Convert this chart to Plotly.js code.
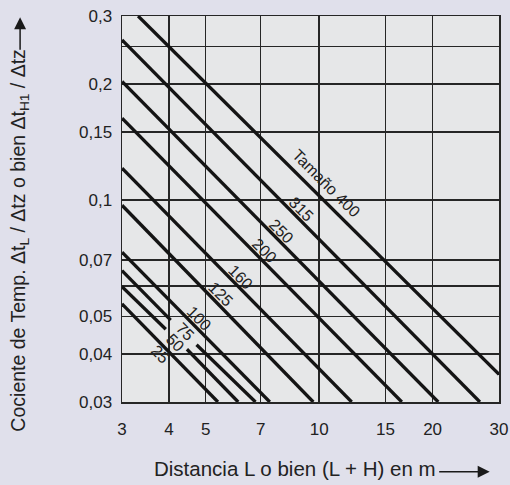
<!DOCTYPE html>
<html>
<head>
<meta charset="utf-8">
<script src="https://cdn.plot.ly/plotly-3.0.1.min.js"></script>
<style>
  html, body { margin: 0; padding: 0; background: #e0e0eb; }
  #chart { width: 510px; height: 485px; }
</style>
</head>
<body>
<div id="chart"></div>
<script>
// ---- Data ----
const sizeLabels = ["25", "50", "75", "100", "125", "160", "200", "250", "315", "Tamaño 400"];

const x_25  = [3, 5.39];                       const y_25  = [0.0539, 0.03];
const x_50  = [3, 3.92, null, 4.46, 6.10];     const y_50  = [0.0597, 0.0463, null, 0.0411, 0.03];
const x_75  = [3, 4.04, null, 4.73, 6.78];     const y_75  = [0.0657, 0.0489, null, 0.0422, 0.03];
const x_100 = [3, 7.40];                       const y_100 = [0.0733, 0.03];
const x_125 = [3, 9.65];                       const y_125 = [0.0970, 0.03];
const x_160 = [3, 12.2];                       const y_160 = [0.121, 0.03];
const x_200 = [3, 16.57];                      const y_200 = [0.163, 0.03];
const x_250 = [3, 20.7];                       const y_250 = [0.203, 0.03];
const x_315 = [3, 26.7];                       const y_315 = [0.26, 0.03];
const x_400 = [3.31, 30];                      const y_400 = [0.3, 0.0354];

// label anchor points (data coordinates)
const labelX = [3.79, 4.14, 4.40, 4.81, 5.49, 6.20, 7.15, 7.95, 8.99, 10.45];
const labelY = [0.0398, 0.0427, 0.0456, 0.0495, 0.0569, 0.0630, 0.0740, 0.0830, 0.0948, 0.1104];

const xTickVals = [3, 4, 5, 7, 10, 15, 20, 30];
const xTickText = ["3", "4", "5", "7", "10", "15", "20", "30"];
const yTickVals = [0.03, 0.04, 0.05, 0.06, 0.07, 0.1, 0.15, 0.2, 0.25, 0.3];
const yTickText = ["0,03", "0,04", "0,05", "", "0,07", "0,1", "0,15", "0,2", "", "0,3"];

// ---- Build traces ----
const seriesX = [x_25, x_50, x_75, x_100, x_125, x_160, x_200, x_250, x_315, x_400];
const seriesY = [y_25, y_50, y_75, y_100, y_125, y_160, y_200, y_250, y_315, y_400];

const FONT = "Liberation Sans, Arial, Helvetica, sans-serif";
const traces = seriesX.map((xs, i) => ({
  type: "scatter",
  mode: "lines",
  x: xs,
  y: seriesY[i],
  connectgaps: false,
  line: { color: "#141414", width: 3.3 },
  hoverinfo: "skip",
  showlegend: false
}));

const annotations = sizeLabels.map((t, i) => ({
  x: Math.log10(labelX[i]),
  y: Math.log10(labelY[i]),
  xref: "x", yref: "y",
  text: t,
  showarrow: false,
  textangle: 45,
  xanchor: "center", yanchor: "middle",
  font: { family: FONT, size: 16, color: "#222" }
}));

// axis titles and arrows
annotations.push({
  xref: "paper", yref: "paper",
  x: 0.4598, y: -0.173,
  xanchor: "center", yanchor: "middle",
  text: "Distancia L o bien (L + H) en m",
  showarrow: false,
  font: { family: FONT, size: 20.5, color: "#222" }
});
annotations.push({
  xref: "paper", yref: "paper",
  x: -0.2743, y: 0.417,
  xanchor: "center", yanchor: "middle",
  textangle: -90,
  text: "Cociente de Temp. Δt<sub>L</sub> / Δtz o bien Δt<sub>H1</sub> / Δtz",
  showarrow: false,
  font: { family: FONT, size: 19.5, color: "#222" }
});
annotations.push({
  xref: "paper", yref: "paper",
  x: 0.9753, y: -0.181,
  ax: -52, ay: 0,
  text: "",
  showarrow: true,
  arrowhead: 2, arrowsize: 1.6, arrowwidth: 1.5, arrowcolor: "#1a1a1a",
  standoff: 0, startstandoff: 0
});
annotations.push({
  xref: "paper", yref: "paper",
  x: -0.2703, y: 0.9969,
  ax: 0, ay: 34,
  text: "",
  showarrow: true,
  arrowhead: 2, arrowsize: 1.6, arrowwidth: 1.5, arrowcolor: "#1a1a1a",
  standoff: 0, startstandoff: 0
});

const layout = {
  width: 510, height: 485,
  margin: { l: 122, r: 11, t: 15.5, b: 82.7, pad: 0 },
  paper_bgcolor: "#e0e0eb",
  plot_bgcolor: "#e6e7e8",
  showlegend: false,
  xaxis: {
    type: "log",
    range: [Math.log10(3), Math.log10(30)],
    tickmode: "array", tickvals: xTickVals, ticktext: xTickText,
    showgrid: true, gridcolor: "#262626", gridwidth: 1.5,
    showline: true, linecolor: "#262626", linewidth: 1.5, mirror: true,
    ticks: "", ticklabelstandoff: 11,
    zeroline: false,
    tickfont: { family: FONT, size: 17, color: "#222" },
    fixedrange: true
  },
  yaxis: {
    type: "log",
    range: [Math.log10(0.03), Math.log10(0.3)],
    tickmode: "array", tickvals: yTickVals, ticktext: yTickText,
    showgrid: true, gridcolor: "#262626", gridwidth: 1.5,
    showline: true, linecolor: "#262626", linewidth: 1.5, mirror: true,
    ticks: "", ticklabelstandoff: 5,
    zeroline: false,
    tickfont: { family: FONT, size: 17, color: "#222" },
    fixedrange: true
  },
  annotations: annotations
};

Plotly.newPlot("chart", traces, layout, { staticPlot: true, displayModeBar: false });
</script>
</body>
</html>
